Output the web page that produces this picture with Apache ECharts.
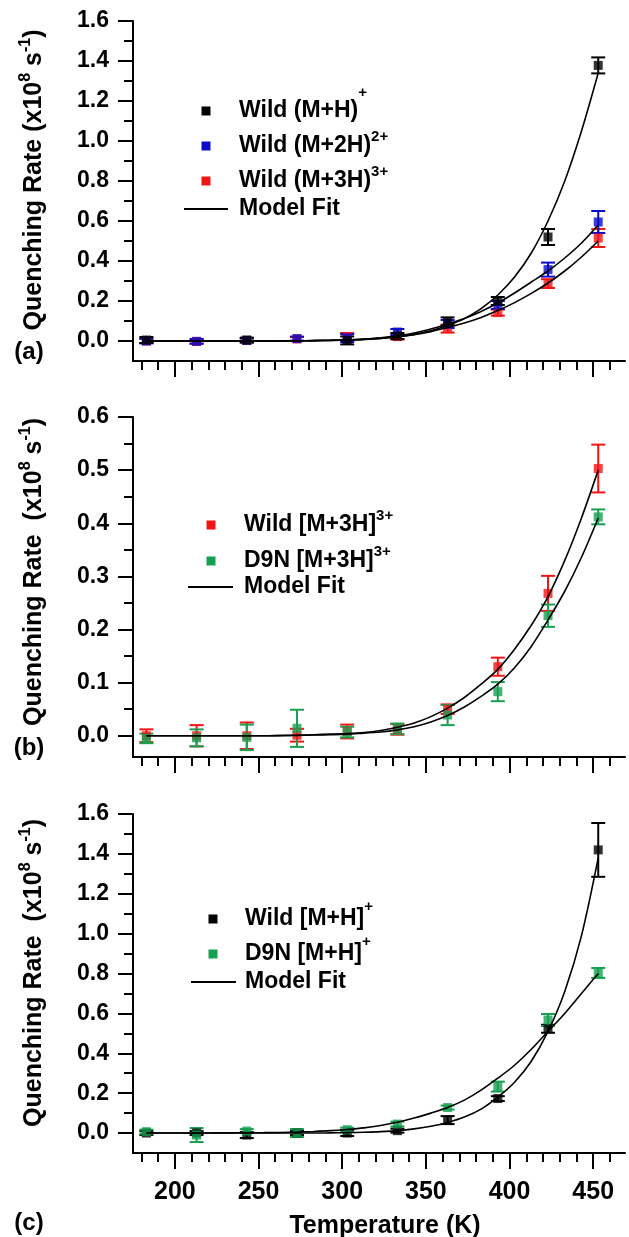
<!DOCTYPE html>
<html>
<head>
<meta charset="utf-8">
<script src="https://cdn.jsdelivr.net/npm/echarts@6/dist/echarts.min.js"></script>
<style>
  html, body { margin: 0; padding: 0; background: #fff; }
  #chart { width: 629px; height: 1237px; }
</style>
</head>
<body>
<div id="chart"></div>
<script>
// ---------------- DATA ----------------
const temps = [183, 213, 243, 273, 303, 333, 363, 393, 423, 453];
const fitTemps = [183, 193, 203, 213, 223, 233, 243, 253, 263, 273, 283, 293, 303, 313,
                  323, 333, 343, 353, 363, 373, 383, 393, 403, 413, 423, 433, 443, 453];

// tick labels
const xMajorTicks = [200, 250, 300, 350, 400, 450];
const xMinorTicks = [180, 190, 210, 220, 230, 240, 260, 270, 280, 290, 310, 320, 330, 340,
                     360, 370, 380, 390, 410, 420, 430, 440, 460];
const yMajorA = [0.0, 0.2, 0.4, 0.6, 0.8, 1.0, 1.2, 1.4, 1.6];
const yMinorA = [0.1, 0.3, 0.5, 0.7, 0.9, 1.1, 1.3, 1.5];
const yMajorB = [0.0, 0.1, 0.2, 0.3, 0.4, 0.5, 0.6];
const yMinorB = [0.05, 0.15, 0.25, 0.35, 0.45, 0.55];

// Panel (a)
const aWildMH      = [0.005, null, 0.005, null, 0.003, 0.025, 0.098, 0.200, 0.520, 1.378];
const aWildMHErr   = [0.015, null, 0.012, null, 0.020, 0.015, 0.020, 0.020, 0.040, 0.040];
const aWildM2H     = [0.000, -0.002, 0.003, 0.012, 0.015, 0.045, 0.085, 0.180, 0.357, 0.595];
const aWildM2HErr  = [0.012, 0.012, 0.010, 0.010, 0.020, 0.015, 0.020, 0.020, 0.035, 0.055];
const aWildM3H     = [0.000, -0.002, 0.003, 0.010, 0.020, 0.022, 0.062, 0.142, 0.287, 0.515];
const aWildM3HErr  = [0.010, 0.010, 0.010, 0.010, 0.020, 0.015, 0.020, 0.015, 0.022, 0.045];
const aFitMH  = [0, 0, 0, 0, 0, 0, 0, 0.0002, 0.0005, 0.001, 0.002, 0.003, 0.005, 0.008,
                 0.013, 0.021, 0.033, 0.051, 0.077, 0.112, 0.162, 0.23, 0.32, 0.44, 0.60, 0.80, 1.05, 1.34];
const aFitM2H = [0, 0, 0, 0, 0, 0, 0, 0, 0.0005, 0.001, 0.002, 0.004, 0.006, 0.010,
                 0.016, 0.026, 0.040, 0.060, 0.085, 0.113, 0.148, 0.19, 0.24, 0.295, 0.35, 0.415, 0.49, 0.58];
const aFitM3H = [0, 0, 0, 0, 0, 0, 0, 0, 0.0005, 0.001, 0.002, 0.003, 0.005, 0.008,
                 0.013, 0.021, 0.032, 0.047, 0.067, 0.090, 0.118, 0.152, 0.192, 0.238, 0.29, 0.35, 0.42, 0.50];

// Panel (b)
const bWild     = [0.000, 0.000, 0.000, 0.001, 0.008, 0.012, 0.050, 0.130, 0.268, 0.503];
const bWildErr  = [0.012, 0.020, 0.025, 0.012, 0.013, 0.010, 0.009, 0.017, 0.033, 0.045];
const bD9N      = [-0.005, -0.004, -0.003, 0.014, 0.007, 0.013, 0.039, 0.083, 0.226, 0.412];
const bD9NErr   = [0.009, 0.016, 0.024, 0.035, 0.010, 0.010, 0.019, 0.018, 0.021, 0.014];
const bFitWild  = [0, 0, 0, 0, 0, 0, 0, 0, 0.0005, 0.001, 0.002, 0.003, 0.004, 0.006,
                   0.010, 0.016, 0.024, 0.036, 0.052, 0.072, 0.097, 0.125, 0.163, 0.208, 0.262, 0.33, 0.41, 0.50];
const bFitD9N   = [0, 0, 0, 0, 0, 0, 0, 0, 0.0003, 0.0007, 0.0013, 0.002, 0.003, 0.005,
                   0.007, 0.011, 0.017, 0.026, 0.038, 0.054, 0.074, 0.097, 0.128, 0.168, 0.218, 0.272, 0.336, 0.41];

// Panel (c)
const cWild     = [0.000, 0.000, -0.010, 0.000, 0.000, 0.012, 0.065, 0.173, 0.523, 1.420];
const cWildErr  = [0.010, 0.010, 0.015, 0.010, 0.015, 0.010, 0.020, 0.012, 0.020, 0.135];
const cD9N      = [0.007, -0.010, 0.010, 0.000, 0.017, 0.045, 0.128, 0.233, 0.567, 0.803];
const cD9NErr   = [0.010, 0.035, 0.010, 0.020, 0.010, 0.012, 0.010, 0.025, 0.030, 0.025];
const cFitWild  = [0, 0, 0, 0, 0, 0, 0, 0, 0, 0, 0, 0.001, 0.002, 0.004,
                   0.007, 0.012, 0.021, 0.034, 0.053, 0.080, 0.120, 0.18, 0.255, 0.36, 0.51, 0.71, 0.99, 1.38];
const cFitD9N   = [0, 0, 0, 0.0005, 0.0007, 0.001, 0.0015, 0.002, 0.003, 0.005, 0.008, 0.012, 0.018, 0.026,
                   0.038, 0.054, 0.075, 0.100, 0.128, 0.165, 0.215, 0.275, 0.34, 0.42, 0.51, 0.60, 0.70, 0.80];

// ---------------- STYLE ----------------
const FONT = "'Liberation Sans', Arial, sans-serif";
const BLACK = '#000000', BLUE = '#0a0acc', RED = '#f51414', GREEN = '#17a050';

const panels = [
  { top: 21,  height: 340, ymin: -0.1,  ymax: 1.6, majors: yMajorA, minors: yMinorA, showX: false },
  { top: 417, height: 340, ymin: -0.04, ymax: 0.6, majors: yMajorB, minors: yMinorB, showX: false },
  { top: 814, height: 339, ymin: -0.1,  ymax: 1.6, majors: yMajorA, minors: yMinorA, showX: true }
];
const XMIN = 175, XMAX = 469;

const grids = [], xAxes = [], yAxes = [];
panels.forEach((p, i) => {
  grids.push({ left: 133, top: p.top, width: 492, height: p.height, containLabel: false });
  xAxes.push({
    type: 'value', gridIndex: i, min: XMIN, max: XMAX, position: 'bottom',
    axisLine: { show: true, onZero: false, lineStyle: { color: '#000', width: 2 } },
    axisTick: { show: true, customValues: xMajorTicks, length: 16, lineStyle: { color: '#000', width: 2 } },
    axisLabel: { show: p.showX, customValues: xMajorTicks, margin: 27, color: '#000',
                 fontSize: 25, fontWeight: 'bold', fontFamily: FONT },
    splitLine: { show: false }
  });
  xAxes.push({
    type: 'value', gridIndex: i, min: XMIN, max: XMAX, position: 'bottom', offset: 0,
    axisLine: { show: false, onZero: false },
    axisTick: { show: true, customValues: xMinorTicks, length: 9, lineStyle: { color: '#000', width: 2 } },
    axisLabel: { show: false },
    splitLine: { show: false }
  });
  yAxes.push({
    type: 'value', gridIndex: i, min: p.ymin, max: p.ymax, position: 'left',
    axisLine: { show: true, onZero: false, lineStyle: { color: '#000', width: 2 } },
    axisTick: { show: true, customValues: p.majors, length: 15, lineStyle: { color: '#000', width: 2 } },
    axisLabel: { show: true, customValues: p.majors, margin: 24, color: '#000',
                 fontSize: 23, fontWeight: 'bold', fontFamily: FONT,
                 formatter: v => Number(v).toFixed(1) },
    splitLine: { show: false }
  });
  yAxes.push({
    type: 'value', gridIndex: i, min: p.ymin, max: p.ymax, position: 'left', offset: 0,
    axisLine: { show: false, onZero: false },
    axisTick: { show: true, customValues: p.minors, length: 9, lineStyle: { color: '#000', width: 2 } },
    axisLabel: { show: false },
    splitLine: { show: false }
  });
});

function errData(vals, errs) {
  const out = [];
  temps.forEach((t, k) => { if (vals[k] != null) out.push([t, vals[k], errs[k]]); });
  return out;
}
function ptData(vals) {
  const out = [];
  temps.forEach((t, k) => { if (vals[k] != null) out.push([t, vals[k]]); });
  return out;
}
function fitData(vals) { return fitTemps.map((t, k) => [t, vals[k]]); }

function errRender(color) {
  return function (params, api) {
    const x = api.value(0), y = api.value(1), e = api.value(2);
    const top = api.coord([x, y + e]), bot = api.coord([x, y - e]);
    const hw = 7;
    const st = { stroke: color, lineWidth: 2 };
    return { type: 'group', children: [
      { type: 'line', shape: { x1: top[0], y1: top[1], x2: bot[0], y2: bot[1] }, style: st },
      { type: 'line', shape: { x1: top[0] - hw, y1: top[1], x2: top[0] + hw, y2: top[1] }, style: st },
      { type: 'line', shape: { x1: bot[0] - hw, y1: bot[1], x2: bot[0] + hw, y2: bot[1] }, style: st }
    ] };
  };
}

const series = [];
function addPoints(panel, name, vals, errs, color) {
  series.push({
    type: 'custom', name: name + ' err', xAxisIndex: panel * 2, yAxisIndex: panel * 2,
    renderItem: errRender(color), data: errData(vals, errs), encode: { x: 0, y: 1 }, z: 2, clip: false
  });
  series.push({
    type: 'scatter', name: name, xAxisIndex: panel * 2, yAxisIndex: panel * 2,
    symbol: 'rect', symbolSize: 9, itemStyle: { color: color }, data: ptData(vals), z: 2
  });
}
function addFit(panel, name, vals) {
  series.push({
    type: 'line', name: name, xAxisIndex: panel * 2, yAxisIndex: panel * 2,
    data: fitData(vals), smooth: 0.3, showSymbol: false, symbol: 'none',
    lineStyle: { color: '#000', width: 1.6 }, z: 3
  });
}

// Panel a
addPoints(0, 'Wild (M+3H)3+', aWildM3H, aWildM3HErr, RED);
addPoints(0, 'Wild (M+2H)2+', aWildM2H, aWildM2HErr, BLUE);
addPoints(0, 'Wild (M+H)+', aWildMH, aWildMHErr, BLACK);
addFit(0, 'Model Fit', aFitMH);
addFit(0, 'Model Fit', aFitM2H);
addFit(0, 'Model Fit', aFitM3H);
// Panel b
addPoints(1, 'Wild [M+3H]3+', bWild, bWildErr, RED);
addPoints(1, 'D9N [M+3H]3+', bD9N, bD9NErr, GREEN);
addFit(1, 'Model Fit', bFitWild);
addFit(1, 'Model Fit', bFitD9N);
// Panel c
addPoints(2, 'Wild [M+H]+', cWild, cWildErr, BLACK);
addPoints(2, 'D9N [M+H]+', cD9N, cD9NErr, GREEN);
addFit(2, 'Model Fit', cFitWild);
addFit(2, 'Model Fit', cFitD9N);

// ---------------- TEXT / LEGENDS ----------------
const richBase = {
  m:  { fontSize: 23, fontWeight: 'bold', fontFamily: FONT, color: '#000', verticalAlign: 'bottom' },
  s:  { fontSize: 15, fontWeight: 'bold', fontFamily: FONT, color: '#000', verticalAlign: 'bottom', padding: [0, 0, 13, 0] },
  sh: { fontSize: 15, fontWeight: 'bold', fontFamily: FONT, color: '#000', verticalAlign: 'bottom', padding: [0, 0, 22, 0] },
  sc: { fontSize: 15, fontWeight: 'bold', fontFamily: FONT, color: '#000', verticalAlign: 'bottom', padding: [0, 0, 16, 0] }
};

const legends = [
  { mx: 206, tx: 239, lx1: 184, lx2: 228, rows: [
    { y: 111, color: BLACK, text: '{m|Wild (M+H)}{sh|+}' },
    { y: 146, color: BLUE,  text: '{m|Wild (M+2H)}{s|2+}' },
    { y: 181, color: RED,   text: '{m|Wild (M+3H)}{s|3+}' },
    { y: 209, line: true,   text: '{m|Model Fit}' } ] },
  { mx: 211, tx: 244, lx1: 188, lx2: 233, rows: [
    { y: 525, color: RED,   text: '{m|Wild [M+3H]}{s|3+}' },
    { y: 561, color: GREEN, text: '{m|D9N [M+3H]}{s|3+}' },
    { y: 587, line: true,   text: '{m|Model Fit}' } ] },
  { mx: 213, tx: 245, lx1: 191, lx2: 236, rows: [
    { y: 919, color: BLACK, text: '{m|Wild [M+H]}{sc|+}' },
    { y: 954, color: GREEN, text: '{m|D9N [M+H]}{sc|+}' },
    { y: 982, line: true,   text: '{m|Model Fit}' } ] }
];

const graphics = [];
legends.forEach(lg => {
  lg.rows.forEach(r => {
    if (r.line) {
      graphics.push({ type: 'line', shape: { x1: lg.lx1, y1: r.y, x2: lg.lx2, y2: r.y },
                      style: { stroke: '#000', lineWidth: 2 } });
    } else {
      graphics.push({ type: 'rect', shape: { x: lg.mx - 4.5, y: r.y - 4.5, width: 9, height: 9 },
                      style: { fill: r.color } });
    }
    graphics.push({ type: 'text', x: lg.tx, y: r.y + 11,
                    style: { text: r.text, rich: richBase, align: 'left', verticalAlign: 'bottom' } });
  });
});

const titleRich = {
  m: { fontSize: 25, fontWeight: 'bold', fontFamily: FONT, color: '#000', verticalAlign: 'bottom' },
  s: { fontSize: 16, fontWeight: 'bold', fontFamily: FONT, color: '#000', verticalAlign: 'bottom', padding: [0, 0, 13, 0] }
};
const yTitles = [
  { cy: 180, text: '{m|Quenching Rate (x10}{s|8}{m| s}{s|-1}{m|)}' },
  { cy: 572, text: '{m|Quenching Rate  (x10}{s|8}{m| s}{s|-1}{m|)}' },
  { cy: 973, text: '{m|Quenching Rate  (x10}{s|8}{m| s}{s|-1}{m|)}' }
];
yTitles.forEach(t => {
  graphics.push({ type: 'text', x: 47, y: t.cy, rotation: Math.PI / 2,
                  style: { text: t.text, rich: titleRich, align: 'center', verticalAlign: 'bottom' } });
});

[['(a)', 352], ['(b)', 748], ['(c)', 1223]].forEach(([s, y]) => {
  graphics.push({ type: 'text', x: 29, y: y,
                  style: { text: s, fontSize: 24, fontWeight: 'bold', fontFamily: FONT, fill: '#000',
                           align: 'center', verticalAlign: 'middle' } });
});
graphics.push({ type: 'text', x: 385, y: 1226,
                style: { text: 'Temperature (K)', fontSize: 25, fontWeight: 'bold', fontFamily: FONT, fill: '#000',
                         align: 'center', verticalAlign: 'middle' } });

const chart = echarts.init(document.getElementById('chart'), null, { renderer: 'canvas' });
chart.setOption({
  backgroundColor: '#ffffff',
  animation: false,
  grid: grids,
  xAxis: xAxes,
  yAxis: yAxes,
  series: series,
  graphic: { elements: graphics }
});
</script>
</body>
</html>
